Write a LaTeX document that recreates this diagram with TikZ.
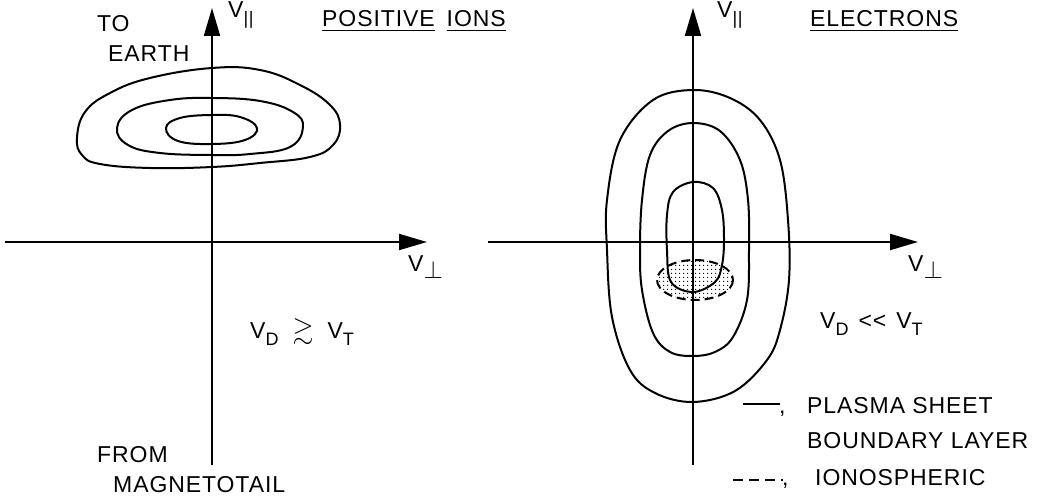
\documentclass[tikz,border=0pt]{standalone}
\usepackage{amssymb}
\usepackage{fontspec}
\setmainfont{Liberation Sans}[LetterSpace=4]
\usepackage{tikz}
\usetikzlibrary{arrows.meta, patterns.meta}
\newcommand{\lowsub}[1]{\raisebox{-7pt}{\fontsize{18}{20}\selectfont #1}}
\newcommand{\perpsub}{\raisebox{-7pt}{\fontsize{27}{28}\selectfont$\perp$}}
\tikzstyle{axis} = [
    line width=2pt,
    -{Triangle[length=28pt, width=16pt]}
]
\tikzstyle{contour} = [
    line width=2pt,
    line join=round
]
\tikzstyle{lbl} = [
    inner sep=0pt,
    anchor=base west,
    font=\fontsize{23}{28}\selectfont
]

\begin{document}
\begin{tikzpicture}[x=1pt, y=-1pt]
    \useasboundingbox (0,0) rectangle (1039,497);

    % Left panel: positive ions
    \coordinate (Lw) at (5,242);
    \coordinate (Le) at (427,242);
    \coordinate (Ls) at (212,465);
    \coordinate (Ln) at (212,8);
    \draw[axis] (Lw) -- (Le);
    \draw[axis] (Ls) -- (Ln);

    \draw[contour] plot[smooth cycle, tension=0.7] coordinates {
        (77,138) (85,112) (110,93) (150,78) (212,68) (260,70) (300,85)
        (330,105) (340,125) (333,145) (310,157) (260,163) (212,167)
        (150,168) (100,164) (82,155)};
    \draw[contour] plot[smooth cycle, tension=0.7] coordinates {
        (117,128) (132,110) (170,100) (212,98) (260,101) (293,112)
        (303,127) (290,147) (250,154) (212,155) (160,153) (128,145)};
    \draw[contour] plot[smooth cycle, tension=0.7] coordinates {
        (166,128) (180,118) (212,115) (240,117) (257,128) (245,140)
        (212,144) (178,141)};

    \node (toearth) [lbl] at (97,32) {TO};
    \node (earth) [lbl] at (108,62) {EARTH};
    \node (vparL) [lbl] at (228,18) {V\lowsub{||}};
    \node (ions) [lbl] at (322,27) {\underline{POSITIVE}\hspace{12pt}\underline{IONS}};
    \node (vperpL) [lbl] at (408,271) {V\perpsub};
    \node (condL) [lbl] at (250,338) {V\lowsub{D}\hspace{14pt}{\fontsize{27}{28}\selectfont$\gtrsim$}\hspace{14pt}V\lowsub{T}};
    \node (from) [lbl] at (97,462) {FROM};
    \node (tail) [lbl] at (113,492) {MAGNETOTAIL};

    % Right panel: electrons
    \coordinate (Rw) at (488,242);
    \coordinate (Re) at (918,242);
    \coordinate (Rs) at (693,465);
    \coordinate (Rn) at (693,8);

    \fill[pattern={Dots[distance=4pt, radius=0.8pt]}] (695,280) ellipse [x radius=38, y radius=20];
    \draw[contour, dash pattern=on 9pt off 5pt] (695,280) ellipse [x radius=38, y radius=20];

    \draw[axis] (Rw) -- (Re);
    \draw[axis] (Rs) -- (Rn);

    \draw[contour] plot[smooth cycle, tension=0.6] coordinates {
        (693,90) (730,98) (760,120) (780,160) (788,220) (789,280)
        (780,330) (767,360) (735,391) (693,402) (655,393) (630,370)
        (612,317) (607,250) (607,200) (620,140) (653,100)};
    \draw[contour] plot[smooth cycle, tension=0.6] coordinates {
        (693,123) (720,131) (740,160) (748,200) (749,250) (747,300)
        (733,337) (715,352) (693,356) (670,352) (653,333) (642,290)
        (640,250) (642,200) (650,155) (668,131)};
    \draw[contour] plot[smooth cycle, tension=0.6] coordinates {
        (693,182) (713,188) (722,210) (724,240) (722,265) (715,282)
        (693,292) (671,282) (667,250) (667,215) (673,192)};

    \node (vparR) [lbl] at (717,18) {V\lowsub{||}};
    \node (elec) [lbl] at (810,27) {\underline{ELECTRONS}};
    \node (vperpR) [lbl] at (908,271) {V\perpsub};
    \node (condR) [lbl] at (820,328) {V\lowsub{D}\hspace{10pt}{<}{<}\hspace{10pt}V\lowsub{T}};

    % Legend
    \coordinate (solA) at (743,404);
    \coordinate (solB) at (780,404);
    \draw[contour] (solA) -- (solB);
    \node (comma1) [lbl] at (779,413) {,};
    \node (plasma) [lbl] at (807,413) {PLASMA SHEET};
    \node (bound) [lbl] at (807,448) {BOUNDARY LAYER};
    \coordinate (dashA) at (733,480);
    \coordinate (dashB) at (783,480);
    \draw[contour, dash pattern=on 10pt off 6pt] (dashA) -- (dashB);
    \node (comma2) [lbl] at (782,485) {,};
    \node (iono) [lbl] at (815,485) {IONOSPHERIC};

\end{tikzpicture}
\end{document}
